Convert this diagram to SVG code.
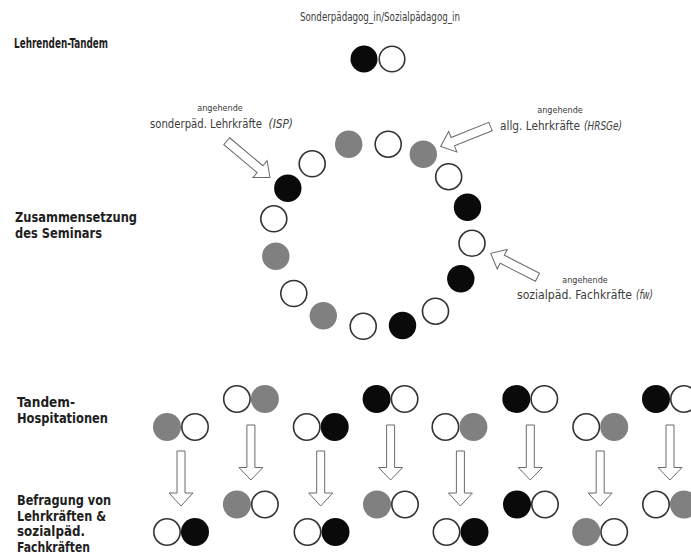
<svg xmlns="http://www.w3.org/2000/svg" width="691" height="556" viewBox="0 0 691 556">
<defs>
<style>
.lbl{font-family:"DejaVu Sans Condensed","DejaVu Sans",sans-serif;font-stretch:condensed;font-weight:bold;font-size:13.3px;fill:#1e1e1e}
.ann{font-family:"DejaVu Sans Condensed","DejaVu Sans",sans-serif;font-stretch:condensed;font-size:12.5px;fill:#3c3c3c}
.sm{font-family:"DejaVu Sans Condensed","DejaVu Sans",sans-serif;font-stretch:condensed;font-size:9px;fill:#3c3c3c}
.it{font-style:italic}
.w{fill:#fff;stroke:#333;stroke-width:1.6}
.b{fill:#0a0a0a}
.g{fill:#808080}
.arr{fill:#fff;stroke:#6a6a6a;stroke-width:1}
</style>
</defs>
<rect width="691" height="556" fill="#fff"/>

<g id="labels">
<text class="lbl" x="14" y="48" textLength="94" lengthAdjust="spacingAndGlyphs">Lehrenden-Tandem</text>
<text class="lbl" x="15" y="222" textLength="122" lengthAdjust="spacingAndGlyphs">Zusammensetzung</text>
<text class="lbl" x="15" y="238" textLength="87" lengthAdjust="spacingAndGlyphs">des Seminars</text>
<text class="lbl" x="17" y="407" textLength="58" lengthAdjust="spacingAndGlyphs">Tandem-</text>
<text class="lbl" x="17" y="423" textLength="91" lengthAdjust="spacingAndGlyphs">Hospitationen</text>
<text class="lbl" x="17" y="505" textLength="94" lengthAdjust="spacingAndGlyphs">Befragung von</text>
<text class="lbl" x="17" y="520.5" textLength="89" lengthAdjust="spacingAndGlyphs">Lehrkräften &amp;</text>
<text class="lbl" x="17" y="536" textLength="68" lengthAdjust="spacingAndGlyphs">sozialpäd.</text>
<text class="lbl" x="17" y="551.5" textLength="73" lengthAdjust="spacingAndGlyphs">Fachkräften</text>
</g>

<g id="lehrenden-tandem">
<text class="ann" x="380" y="21" text-anchor="middle" textLength="160" lengthAdjust="spacingAndGlyphs">Sonderpädagog_in/Sozialpädagog_in</text>
<circle class="b" cx="364" cy="59" r="13.5"/>
<circle class="w" cx="392" cy="59" r="12.8"/>
</g>

<g id="seminar-ring">
<circle class="g" cx="348.7" cy="144.3" r="13.7"/>
<circle class="w" cx="388.2" cy="144.2" r="13"/>
<circle class="g" cx="423.3" cy="154.2" r="13.7"/>
<circle class="w" cx="448.7" cy="176.7" r="13"/>
<circle class="b" cx="467.5" cy="207.2" r="13.7"/>
<circle class="w" cx="472" cy="243.3" r="13"/>
<circle class="b" cx="460.8" cy="278.8" r="13.7"/>
<circle class="w" cx="435.5" cy="311.2" r="13"/>
<circle class="b" cx="402.5" cy="325.5" r="13.7"/>
<circle class="w" cx="363.2" cy="326.3" r="13"/>
<circle class="g" cx="323.3" cy="315.8" r="13.7"/>
<circle class="w" cx="293.8" cy="293.5" r="13"/>
<circle class="g" cx="275.8" cy="256.3" r="13.7"/>
<circle class="w" cx="273.8" cy="218.8" r="13"/>
<circle class="b" cx="287.8" cy="188.2" r="13.7"/>
<circle class="w" cx="312.2" cy="163.8" r="13"/>
</g>

<g id="annot-isp">
<text class="sm" x="220" y="111" text-anchor="middle">angehende</text>
<text class="ann" transform="translate(150,127.5) scale(0.8,1)" x="0" y="0" textLength="140" lengthAdjust="spacingAndGlyphs">sonderpäd. Lehrkräfte</text>
<text class="ann it" transform="translate(268.5,127.5) scale(0.8,1)" x="0" y="0" textLength="30.6" lengthAdjust="spacingAndGlyphs">(ISP)</text>
</g>
<g id="annot-hrsge">
<text class="sm" x="560" y="113" text-anchor="middle">angehende</text>
<text class="ann" x="500" y="129.5" textLength="80" lengthAdjust="spacingAndGlyphs">allg. Lehrkräfte</text>
<text class="ann it" x="584" y="129.5" textLength="38" lengthAdjust="spacingAndGlyphs">(HRSGe)</text>
</g>
<g id="annot-fw">
<text class="sm" x="585" y="282.5" text-anchor="middle">angehende</text>
<text class="ann" x="517" y="298.5" textLength="115" lengthAdjust="spacingAndGlyphs">sozialpäd. Fachkräfte</text>
<text class="ann it" x="636" y="298.5" textLength="17" lengthAdjust="spacingAndGlyphs">(fw)</text>
</g>

<g id="connectors">
<path class="arr" transform="translate(226.7,141.2) rotate(40)" d="M0,-4.5 H43.5 V-11 L56.5,0 L43.5,11 V4.5 H0 Z"/>
<path class="arr" transform="translate(490.5,126.5) rotate(158.1)" d="M0,-4.5 H40.7 V-11 L53.7,0 L40.7,11 V4.5 H0 Z"/>
<path class="arr" transform="translate(537.5,277.3) rotate(207.15)" d="M0,-4.5 H39.6 V-11 L52.6,0 L39.6,11 V4.5 H0 Z"/>

<path class="arr" d="M177,451 V493 H169 L181,506 L193,493 H185 V451 Z"/>
<path class="arr" d="M246.9,425 V467.5 H238.9 L250.9,480 L262.9,467.5 H254.9 V425 Z"/>
<path class="arr" d="M316.7,451 V493 H308.7 L320.7,506 L332.7,493 H324.7 V451 Z"/>
<path class="arr" d="M386.6,425 V467.5 H378.6 L390.6,480 L402.6,467.5 H394.6 V425 Z"/>
<path class="arr" d="M456.4,451 V493 H448.4 L460.4,506 L472.4,493 H464.4 V451 Z"/>
<path class="arr" d="M526.3,425 V467.5 H518.3 L530.3,480 L542.3,467.5 H534.3 V425 Z"/>
<path class="arr" d="M596.2,451 V493 H588.2 L600.2,506 L612.2,493 H604.2 V451 Z"/>
<path class="arr" d="M666,425 V467.5 H658 L670,480 L682,467.5 H674 V425 Z"/>
</g>

<g id="col1">
<circle class="g" cx="167" cy="427" r="14"/><circle class="w" cx="195" cy="427" r="13.2"/>
<circle class="w" cx="167" cy="532" r="13.2"/><circle class="b" cx="195" cy="532" r="14"/>
</g>
<g id="col2">
<circle class="w" cx="236.9" cy="399" r="13.2"/><circle class="g" cx="264.9" cy="399" r="14"/>
<circle class="g" cx="236.9" cy="504.5" r="14"/><circle class="w" cx="264.9" cy="504.5" r="13.2"/>
</g>
<g id="col3">
<circle class="w" cx="306.7" cy="427" r="13.2"/><circle class="b" cx="334.7" cy="427" r="14"/>
<circle class="w" cx="307.5" cy="532" r="13.2"/><circle class="b" cx="335.5" cy="532" r="14"/>
</g>
<g id="col4">
<circle class="b" cx="376.6" cy="399" r="14"/><circle class="w" cx="404.6" cy="399" r="13.2"/>
<circle class="g" cx="377" cy="504.5" r="14"/><circle class="w" cx="405" cy="504.5" r="13.2"/>
</g>
<g id="col5">
<circle class="w" cx="445.4" cy="427" r="13.2"/><circle class="g" cx="473.4" cy="427" r="14"/>
<circle class="w" cx="446.5" cy="532" r="13.2"/><circle class="b" cx="474.5" cy="532" r="14"/>
</g>
<g id="col6">
<circle class="b" cx="516.3" cy="399" r="14"/><circle class="w" cx="544.3" cy="399" r="13.2"/>
<circle class="b" cx="517" cy="504.5" r="14"/><circle class="w" cx="545" cy="504.5" r="13.2"/>
</g>
<g id="col7">
<circle class="w" cx="586.2" cy="427" r="13.2"/><circle class="g" cx="614.2" cy="427" r="14"/>
<circle class="g" cx="586.2" cy="532" r="14"/><circle class="w" cx="614.2" cy="532" r="13.2"/>
</g>
<g id="col8">
<circle class="b" cx="656" cy="399" r="14"/><circle class="w" cx="684" cy="399" r="13.2"/>
<circle class="w" cx="656" cy="504.5" r="13.2"/><circle class="g" cx="684" cy="504.5" r="14"/>
</g>
</svg>
